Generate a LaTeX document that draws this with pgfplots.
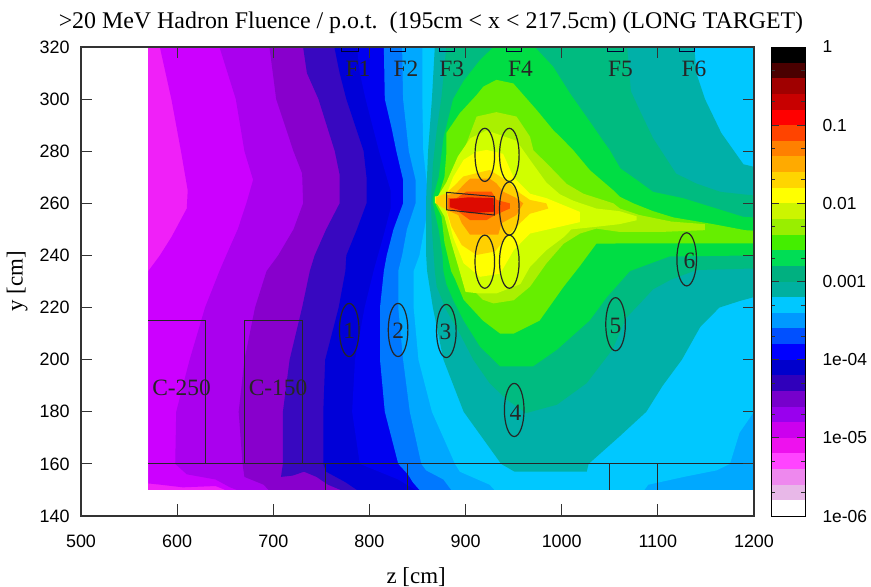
\documentclass[border=0pt]{standalone}
\usepackage{fontspec}
\setmainfont{Liberation Sans}
\newfontfamily\ser{Liberation Serif}
\usepackage{pgfplots}
\pgfplotsset{compat=1.18}
\definecolor{axc}{HTML}{333333}
\newcommand{\band}[3]{\addplot[fill=#1,draw=none,forget plot] coordinates {(0,#2)(1,#2)(1,#3)(0,#3)} --cycle;}
\newcommand{\ellp}[2]{\draw[black!85,line width=1.2pt] (axis cs:#1,#2) ellipse [x radius=10.2, y radius=10.2];}
\newcommand{\lab}[3]{\node[font=\ser\fontsize{23.5}{23.5}\selectfont,text=black!85] at (axis cs:#1,#2) {#3};}
\newcommand{\fbx}[2]{\addplot[color=black!50!blue!40!black,line width=1pt,forget plot] coordinates {(#1,320)(#1,318.3)(#2,318.3)(#2,320)};}
\definecolor{m0}{HTML}{f020f8}\definecolor{m1}{HTML}{cc00ff}\definecolor{m2}{HTML}{aa00ee}\definecolor{m3}{HTML}{8800cc}
\definecolor{m4}{HTML}{3808c0}\definecolor{m5}{HTML}{0000d8}\definecolor{m6}{HTML}{0000f0}\definecolor{m7}{HTML}{0078ff}
\definecolor{m8}{HTML}{00a8ff}\definecolor{m9}{HTML}{00c8ff}\definecolor{m10}{HTML}{00b0a8}\definecolor{m11}{HTML}{00bb80}
\definecolor{m12}{HTML}{00dd44}\definecolor{m13}{HTML}{66ee00}\definecolor{m14}{HTML}{aaf000}\definecolor{m15}{HTML}{d0ff00}
\definecolor{m16}{HTML}{ffff00}\definecolor{m17}{HTML}{ffd000}\definecolor{m18}{HTML}{ff9900}\definecolor{m19}{HTML}{ff5500}\definecolor{m20}{HTML}{dd0a00}
\definecolor{b1}{HTML}{000000}\definecolor{b2}{HTML}{4a0000}\definecolor{b3}{HTML}{a00000}\definecolor{b4}{HTML}{c80000}\definecolor{b5}{HTML}{ff0000}
\definecolor{b6}{HTML}{ff4400}\definecolor{b7}{HTML}{ff8000}\definecolor{b8}{HTML}{ffaa00}\definecolor{b9}{HTML}{ffd500}\definecolor{b10}{HTML}{ffff00}
\definecolor{b11}{HTML}{ccf500}\definecolor{b12}{HTML}{99ee00}\definecolor{b13}{HTML}{44ee00}\definecolor{b14}{HTML}{00dd55}\definecolor{b15}{HTML}{00b080}
\definecolor{b16}{HTML}{00b0a0}\definecolor{b17}{HTML}{00c8ff}\definecolor{b18}{HTML}{0099ff}\definecolor{b19}{HTML}{0050ff}\definecolor{b20}{HTML}{0000ff}
\definecolor{b21}{HTML}{0000cc}\definecolor{b22}{HTML}{3000bb}\definecolor{b23}{HTML}{7700cc}\definecolor{b24}{HTML}{9900ee}\definecolor{b25}{HTML}{cc00ee}
\definecolor{b26}{HTML}{ee11ee}\definecolor{b27}{HTML}{ff44ff}\definecolor{b28}{HTML}{ee88ee}\definecolor{b29}{HTML}{e8b8e8}
\begin{document}
\begin{tikzpicture}
\path[use as bounding box] (0,0) rectangle (871bp,587bp);
\begin{axis}[
  at={(81bp,71bp)},anchor=south west,scale only axis,width=673bp,height=469bp,
  xmin=500,xmax=1200,ymin=140,ymax=320,
  xtick={500,600,...,1200},ytick={140,160,...,320},
  tick align=inside,major tick length=11.5bp,
  axis on top,
  axis line style={color=axc,line width=1.1pt},
  every tick/.style={color=axc,line width=1pt},
  tick label style={font=\fontsize{18}{18}\selectfont},
  xticklabel style={yshift=-15bp},
  yticklabel style={xshift=-8bp},
  /pgf/number format/assume math mode=true,
  /pgf/number format/set thousands separator={},
  title={\ser\fontsize{24}{24}\selectfont >20 MeV Hadron Fluence / p.o.t.~~(195cm < x < 217.5cm) (LONG TARGET)},
  title style={at={(axis description cs:0.52,1.04)},anchor=center,inner sep=0pt},
  xlabel={\ser\fontsize{23}{23}\selectfont z [cm]},
  xlabel style={at={(axis description cs:0.498,-0.13)},anchor=center,inner sep=0pt},
  ylabel={\ser\fontsize{23}{23}\selectfont y [cm]},
  ylabel style={at={(axis description cs:-0.095,0.5)},anchor=center,inner sep=0pt},
]
\addplot[fill=m0,draw=none,forget plot] coordinates {(570,150)(1200,150)(1200,320)(570,320)} --cycle;
\addplot[fill=m1,draw=none,forget plot] coordinates {(582,320)(594,300)(604,280)(611,265)(610,258)(594,247)(582,240)(570,234)(570,152.5)(583,152)(606,151)(640,151.5)(650,150)(1200,150)(1200,320)} --cycle;
\addplot[fill=m2,draw=none,forget plot] coordinates {(644,320)(661,300)(670,280)(679,269)(672,260)(663,250)(651,240)(644,234)(629,220)(613,200)(599,180)(598,160)(610,156)(640,154)(655,151)(662,150)(1200,150)(1200,320)} --cycle;
\addplot[fill=m3,draw=none,forget plot] coordinates {(696,320)(703,300)(721,280)(730,271.5)(731,260)(721,250)(705,240)(693,234)(681,220)(670,200)(664,180)(668,160)(670,155)(690,152)(695,150)(1200,150)(1200,320)} --cycle;
\addplot[fill=m4,draw=none,forget plot] coordinates {(731,320)(735,310)(747,300)(764,280)(769,271)(769,260)(755,250)(743,240)(738,234)(730,220)(717,200)(710,180)(710,160)(708,155)(720,155.5)(732,157)(745,155)(757,152)(770,150)(1200,150)(1200,320)} --cycle;
\addplot[fill=m5,draw=none,forget plot] coordinates {(763.5,320)(769,310)(776,300)(794,280)(797,270)(797,260)(787,250)(776,240)(775,234)(768,220)(754,200)(752,180)(752,160)(755,157)(775,153)(787,150)(1200,150)(1200,320)} --cycle;
\addplot[fill=m6,draw=none,forget plot] coordinates {(787,320)(790,310)(796,300)(810,280)(822,265)(822,258)(815,248)(805,235)(795,220)(785,200)(782,180)(790,160)(810,157)(830,154)(848,150)(1200,150)(1200,320)} --cycle;
\addplot[fill=m7,draw=none,forget plot] coordinates {(815,320)(816,300)(823,289)(828,280)(835,269)(835,260)(825,250)(818,240)(815,234)(811,220)(811,200)(816,180)(830,160)(840,156)(845,153)(852,150)(1200,150)(1200,320)} --cycle;
\addplot[fill=m8,draw=none,forget plot] coordinates {(834,320)(835,300)(841,280)(848,269)(848,260)(839,250)(834,240)(830,234)(830,220)(835,200)(842,180)(854,160)(859,157.5)(877,154)(885,150)(1200,150)(1200,320)} --cycle;
\addplot[fill=m9,draw=none,forget plot] coordinates {(855,320)(855,300)(856,280)(862,260)(852,240)(846,234)(846,220)(851,200)(865,180)(889,160)(894,157)(925,152)(930,150)(1086,150)(1090,152)(1127,155)(1161,157.5)(1175,160)(1185,172)(1200,180)(1200,320)} --cycle;
\addplot[fill=m10,draw=none,forget plot] coordinates {(868,320)(865,300)(861,280)(859,262)(859,240)(860,234)(866,220)(877,200)(898,180)(937,160)(951,157)(1026,157)(1028,160)(1060,170.5)(1088,180)(1105,190)(1125,200)(1144,212.5)(1164,220)(1185,222.5)(1200,224)(1200,274)(1189,275)(1166,287)(1149,300)(1140,310)(1138,320)} --cycle;
\addplot[fill=m11,draw=none,forget plot] coordinates {(880,320)(875,301)(870,288)(866,275)(864,260)(865,250)(868,234)(870,228)(880,219)(894,210)(908,200)(925,191)(943,184.6)(963,179.5)(995,182.7)(1026,191)(1053,204)(1067,216)(1085,223)(1095,227)(1113,230.6)(1140,234.4)(1200,235)(1200,263)(1165,264.4)(1140,267.6)(1119,271.4)(1095,285)(1082,295)(1072,303)(1068,320)} --cycle;
\addplot[fill=m12,draw=none,forget plot] coordinates {(929,320)(915,315)(898,307)(887,300)(877,285)(872,270)(866,262)(866,260)(872,250)(876,240)(877,234)(880,229)(887,223)(898,215)(915,205)(936,197.4)(970,197.4)(995,203.8)(1029,215)(1047,224)(1071,234)(1112,239.6)(1200,240)(1200,254.6)(1189,254.8)(1161,258)(1126,262)(1095,264.4)(1078,269)(1061,273.4)(1050,280.4)(1043,284)(1033,289.4)(1009,302)(991,312.5)(972,320)} --cycle;
\addplot[fill=m13,draw=none,forget plot] coordinates {(932,307.4)(918.5,304.8)(911.5,301.6)(894,294.6)(880,287)(880,279)(878,270)(872,263)(869,261)(869,259.5)(875,255)(878,245)(885,234)(889,231)(898,223)(918,215)(936,210)(950,210)(977,215)(1002,228)(1019,236)(1036,244.5)(1060,244.6)(1200,244.6)(1200,249.5)(1190.6,249.7)(1157.7,252)(1116,254.6)(1095,257)(1074.5,260)(1060.6,262.5)(1053.7,265)(1029.4,272.7)(1012,280.4)(1001.7,284.3)(991,288.2)(974,295.8)(949.7,306)} --cycle;
\addplot[fill=m14,draw=none,forget plot] coordinates {(932,295)(911.5,293.3)(905,287)(897,279)(885,270)(872,262)(872,260)(878,257)(885,250)(893,240)(896,234.4)(901,229.3)(918,223)(929,221.6)(950,222.8)(967,228)(984,236.9)(1002,244.5)(1019,248.4)(1036,250.3)(1060.6,249)(1102,249)(1149,249.7)(1149,252)(1114,253)(1081,255.5)(1060.6,258)(1053.7,260)(1022.5,263.7)(1005,267.5)(988,274)(970.5,280.4)(967,285.6)(953,293.3)} --cycle;
\addplot[fill=m15,draw=none,forget plot] coordinates {(922,288)(905,285)(892,278)(880,268)(870,262)(870,260)(878,255)(885,245)(893,235)(900,226)(915,225.4)(932,225.4)(957,229)(967,235.6)(984,242)(1002,247)(1010,250)(1036,251)(1060,252)(1078,253.5)(1078,255)(1060,257)(1036,258)(1012,261)(998,263.5)(984,268)(967,276.7)(953,284)} --cycle;
\addplot[fill=m16,draw=none,forget plot] coordinates {(922,280.5)(911.5,279.8)(898,276.7)(887,270)(880,263.2)(868,262.6)(868,260)(878,260)(887,247)(898,237)(915,231.8)(936,233)(950,242)(967,248.4)(1019,252.8)(1019,256.7)(984,262)(967,263.7)(950,270)(939,279)} --cycle;
\addplot[fill=m17,draw=none,forget plot] coordinates {(897.7,270.3)(925,272.8)(939,269.6)(946,267.7)(956.6,263.9)(967,261.3)(984,260)(986,258)(967,256)(956.6,252.4)(942.7,247.2)(930.6,241.5)(911.5,240.2)(896,244)(885.5,251)(880,257.5)(869,260)(869,262.3)(880,263.9)(889,267)} --cycle;
\addplot[fill=m18,draw=none,forget plot] coordinates {(899.4,267.7)(905,269.5)(925,269.5)(932,267.7)(939,264.5)(953,262)(960,260)(953,255.5)(937.5,252.4)(934,248)(904.6,248)(896,252.4)(892.5,255.5)(880,257.5)(880,263)(890,264)} --cycle;
\addplot[fill=m19,draw=none,forget plot] coordinates {(882,262)(890.7,262)(901,264.5)(927,264.5)(932.3,261.3)(946,260)(946,258)(930.6,255.5)(922,253.6)(904.6,253.6)(892.5,256.8)(882,258)} --cycle;
\addplot[fill=m20,draw=none,forget plot] coordinates {(883.8,261.6)(902.9,262.3)(929,262)(929.6,256.8)(904.6,256.2)(883.8,258.5)} --cycle;
% detector outlines
\addplot[black!85,line width=1pt,forget plot] coordinates {(880.3,264.2)(930,262.6)(930,255.5)(880.3,257.5)} --cycle;
\addplot[black!85,line width=1pt,forget plot] coordinates {(570,215)(630,215)(630,160)};
\addplot[black!85,line width=1pt,forget plot] coordinates {(670,160)(670,215)(730,215)(730,160)};
\addplot[black!85,line width=1pt,forget plot] coordinates {(570,160)(1200,160)};
\addplot[black!85,line width=1pt,forget plot] coordinates {(753.8,150)(753.8,160)};
\addplot[black!85,line width=1pt,forget plot] coordinates {(839.6,150)(839.6,160)};
\addplot[black!85,line width=1pt,forget plot] coordinates {(1050,150)(1050,160)};
\addplot[black!85,line width=1pt,forget plot] coordinates {(1100,150)(1100,160)};
\fbx{771}{789}\fbx{822}{837}\fbx{873}{888}\fbx{943}{958}\fbx{1048}{1064}\fbx{1123}{1138.5}
\ellp{920}{278.6}\ellp{945.5}{278.6}\ellp{945.5}{258}\ellp{920}{237.6}\ellp{945.5}{237.6}
\ellp{779}{211.4}\ellp{829.8}{211.4}\ellp{880}{211}\ellp{950.6}{180.7}\ellp{1056}{213.6}\ellp{1130}{238.5}
\lab{779}{211}{1}\lab{830}{211}{2}\lab{879}{210.5}{3}\lab{952}{179.5}{4}\lab{1056}{213}{5}\lab{1133}{238}{6}
\lab{604.6}{189}{C-250}\lab{705}{189}{C-150}
\lab{788}{311.7}{F1}\lab{838}{311.7}{F2}\lab{885.6}{311.7}{F3}\lab{957}{311.7}{F4}\lab{1061}{311.7}{F5}\lab{1137.6}{311.7}{F6}
\end{axis}
\begin{axis}[
  at={(771bp,71bp)},anchor=south west,scale only axis,width=34bp,height=469bp,
  xmin=0,xmax=1,ymode=log,ymin=1e-6,ymax=1,
  xtick=\empty,
  ytick={1e-6,1e-5,1e-4,1e-3,1e-2,1e-1,1},
  yticklabels={1e-06,1e-05,1e-04,0.001,0.01,0.1,1},
  minor ytick={2e-6,5e-6,2e-5,5e-5,2e-4,5e-4,2e-3,5e-3,2e-2,5e-2,2e-1,5e-1},
  ytick pos=both,yticklabel pos=right,
  tick align=inside,major tick length=8bp,minor tick length=4bp,
  axis on top,
  axis line style={color=black,line width=.8pt},
  every tick/.style={color=axc,line width=.9pt},
  yticklabel style={font=\fontsize{17.5}{17.5}\selectfont,anchor=west,xshift=14bp},
  /pgf/number format/assume math mode=true,
]
\band{b1}{.631}{1}
\band{b2}{.398}{.631}
\band{b3}{.251}{.398}
\band{b4}{.158}{.251}
\band{b5}{.1}{.158}
\band{b6}{.0631}{.1}
\band{b7}{.0398}{.0631}
\band{b8}{.0251}{.0398}
\band{b9}{.0158}{.0251}
\band{b10}{.01}{.0158}
\band{b11}{.00631}{.01}
\band{b12}{.00398}{.00631}
\band{b13}{.00251}{.00398}
\band{b14}{.00158}{.00251}
\band{b15}{.001}{.00158}
\band{b16}{6.31e-4}{.001}
\band{b17}{3.98e-4}{6.31e-4}
\band{b18}{2.51e-4}{3.98e-4}
\band{b19}{1.58e-4}{2.51e-4}
\band{b20}{1e-4}{1.58e-4}
\band{b21}{6.31e-5}{1e-4}
\band{b22}{3.98e-5}{6.31e-5}
\band{b23}{2.51e-5}{3.98e-5}
\band{b24}{1.58e-5}{2.51e-5}
\band{b25}{1e-5}{1.58e-5}
\band{b26}{6.31e-6}{1e-5}
\band{b27}{3.98e-6}{6.31e-6}
\band{b28}{2.51e-6}{3.98e-6}
\band{b29}{1.58e-6}{2.51e-6}
\end{axis}
\end{tikzpicture}
\end{document}
